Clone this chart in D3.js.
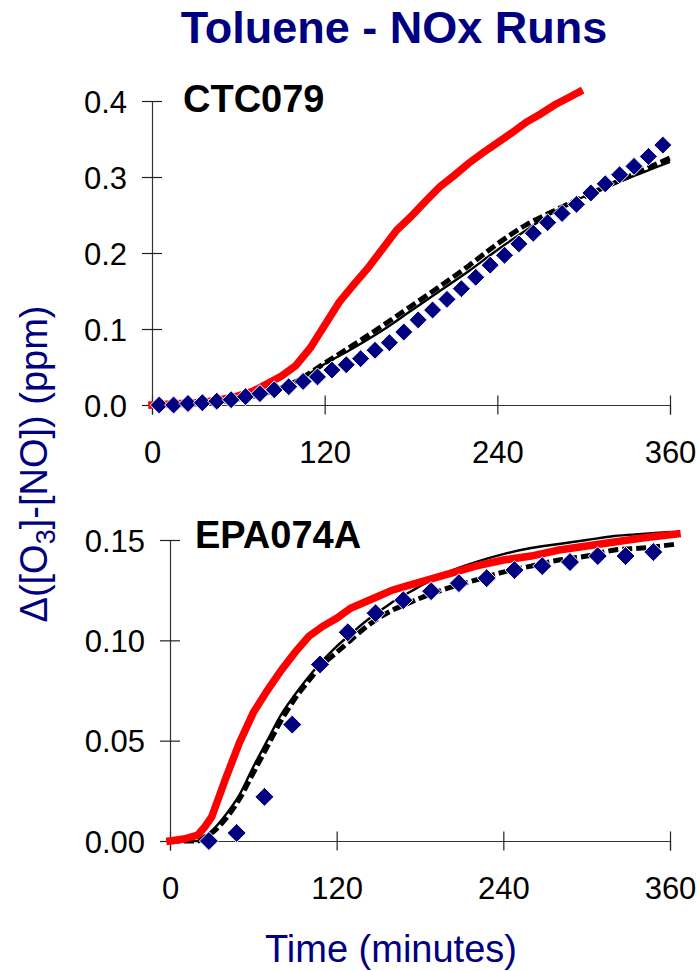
<!DOCTYPE html>
<html>
<head>
<meta charset="utf-8">
<script src="https://cdn.jsdelivr.net/npm/d3@7/dist/d3.min.js"></script>
<style>
  html, body { margin: 0; padding: 0; background: #fff; }
  svg { display: block; font-family: Arial, "Liberation Sans", sans-serif; }
</style>
</head>
<body>
<svg id="chart" width="700" height="971"></svg>
<script>
// ---- CTC079 run ----
const ctcObsTime = [5,15,25,35,45,55,65,75,85,95,105,115,125,135,145,155,165,175,185,195,205,215,225,235,245,255,265,275,285,295,305,315,325,335,345,355];
const ctcObs     = [0.000,0.000,0.002,0.003,0.005,0.007,0.011,0.015,0.020,0.024,0.031,0.037,0.046,0.053,0.061,0.072,0.082,0.096,0.112,0.125,0.139,0.153,0.168,0.184,0.197,0.212,0.226,0.240,0.252,0.264,0.279,0.291,0.303,0.314,0.327,0.342];
const ctcRedTime = [0,10,20,30,40,50,60,70,80,90,100,110,120,130,140,150,160,170,180,190,200,210,220,230,240,250,260,270,280,290,297];
const ctcRed     = [0,0.001,0.002,0.003,0.005,0.008,0.012,0.018,0.028,0.038,0.052,0.075,0.105,0.135,0.158,0.180,0.205,0.230,0.248,0.268,0.287,0.302,0.318,0.332,0.345,0.358,0.372,0.383,0.395,0.405,0.412];
const ctcSolidTime = [0,20,40,60,80,100,120,140,160,180,200,220,240,260,280,300,320,340,360];
const ctcSolid     = [0,0.001,0.003,0.008,0.016,0.031,0.054,0.075,0.098,0.124,0.150,0.176,0.204,0.230,0.255,0.274,0.290,0.305,0.320];
const ctcDashTime  = [0,20,40,60,80,100,120,140,160,180,200,220,240,260,280,300,320,340,360];
const ctcDash      = [0,0.001,0.003,0.008,0.016,0.031,0.055,0.079,0.104,0.130,0.156,0.183,0.212,0.237,0.256,0.274,0.291,0.308,0.325];

// ---- EPA074A run ----
const epaObsTime = [28,48,68,88,108,128,148,168,188,208,228,248,268,288,308,328,348];
const epaObs     = [0.000,0.004,0.022,0.058,0.088,0.104,0.1135,0.120,0.1245,0.1285,0.131,0.135,0.137,0.139,0.142,0.142,0.144];
const epaRedTime = [0,10,20,25,30,40,50,60,70,80,90,100,110,120,130,140,150,160,170,180,190,200,220,240,260,280,300,320,340,365];
const epaRed     = [0,0.001,0.003,0.007,0.012,0.031,0.049,0.064,0.075,0.085,0.094,0.102,0.107,0.111,0.116,0.119,0.122,0.125,0.127,0.129,0.131,0.133,0.137,0.140,0.142,0.145,0.147,0.149,0.151,0.153];
const epaSolidTime = [0,20,25,30,40,50,60,70,80,90,100,110,120,130,140,150,160,170,180,200,220,240,260,280,300,320,340,360];
const epaSolid     = [0,0,0.002,0.005,0.013,0.023,0.037,0.050,0.063,0.073,0.082,0.090,0.097,0.103,0.109,0.114,0.119,0.123,0.127,0.134,0.139,0.143,0.146,0.148,0.150,0.152,0.153,0.154];
const epaDashTime  = [0,20,25,30,40,50,60,70,80,90,100,110,120,130,140,150,160,170,180,200,220,240,260,280,300,320,340,365];
const epaDash      = [0,0,0.002,0.004,0.011,0.021,0.034,0.047,0.060,0.071,0.080,0.088,0.094,0.100,0.106,0.111,0.115,0.118,0.121,0.126,0.130,0.134,0.137,0.140,0.142,0.145,0.146,0.148];

// ---- axis ticks and labels ----
const timeTicks = [0,120,240,360];
const ctcTicks  = [0,0.1,0.2,0.3,0.4];
const epaTicks  = [0,0.05,0.10,0.15];
const titleText = "Toluene - NOx Runs";
const xLabel    = "Time (minutes)";

const NAVY = "#000080", RED = "#ff0000";
const svg = d3.select("#chart");

const zip = (t, v) => t.map((d, i) => [d, v[i]]);

function panel(cfg) {
  const x = d3.scaleLinear().domain([0, 360]).range(cfg.xr);
  const y = d3.scaleLinear().domain(cfg.yd).range(cfg.yr);
  const g = svg.append("g");

  // axes; tick marks cross the axis line on both sides
  const xa = g.append("g").attr("transform", `translate(0,${cfg.yr[0]})`)
    .call(d3.axisBottom(x).tickValues(timeTicks).tickSizeOuter(0).tickSize(9.5).tickPadding(26).tickFormat(d3.format("d")));
  const ya = g.append("g").attr("transform", `translate(${cfg.xr[0]},0)`)
    .call(d3.axisLeft(y).tickValues(cfg.ticks).tickSizeOuter(0).tickSize(10).tickPadding(15).tickFormat(d3.format(cfg.fmt)));
  xa.selectAll(".tick line").attr("y1", -9.5);
  ya.selectAll(".tick line").attr("x1", 10);
  [xa, ya].forEach(a => {
    a.select(".domain").attr("stroke", "#333").attr("stroke-width", 1.2);
    a.selectAll(".tick line").attr("stroke", "#222").attr("stroke-width", 1.2);
    a.selectAll(".tick text").attr("font-size", 31).attr("fill", "#000").attr("font-family", "Arial, 'Liberation Sans', sans-serif");
  });
  ya.selectAll(".tick text").attr("dy", "0.36em");

  const lineLin = d3.line().x(d => x(d[0])).y(d => y(d[1]));
  const lineSmooth = d3.line().x(d => x(d[0])).y(d => y(d[1])).curve(d3.curveMonotoneX);

  g.append("path").datum(cfg.dash).attr("d", lineSmooth)
    .attr("fill", "none").attr("stroke", "#000").attr("stroke-width", 5).attr("stroke-dasharray", "10,4");
  g.append("path").datum(cfg.solid).attr("d", lineSmooth)
    .attr("fill", "none").attr("stroke", "#000").attr("stroke-width", 2.4);
  g.append("path").datum(cfg.red).attr("d", lineLin)
    .attr("fill", "none").attr("stroke", RED).attr("stroke-width", 7.5)
    .attr("stroke-linejoin", "miter").attr("stroke-linecap", "square");

  // observed points as square diamonds
  const r = cfg.r;
  g.selectAll("path.obs").data(cfg.obs).join("path").attr("class", "obs")
    .attr("d", d => {
      const cx = x(d[0]), cy = y(d[1]);
      return `M${cx},${cy - r}L${cx + r},${cy}L${cx},${cy + r}L${cx - r},${cy}Z`;
    })
    .attr("fill", NAVY).attr("stroke", "#fff").attr("stroke-width", 1);

  g.append("text").attr("x", cfg.label[1]).attr("y", cfg.label[2])
    .attr("font-size", 38).attr("font-weight", "bold").attr("fill", "#000")
    .text(cfg.label[0]);
}

panel({
  xr: [152, 670], yr: [405, 101], yd: [0, 0.4], ticks: ctcTicks, fmt: ".1f", r: 9,
  obs: zip(ctcObsTime, ctcObs), red: zip(ctcRedTime, ctcRed),
  solid: zip(ctcSolidTime, ctcSolid), dash: zip(ctcDashTime, ctcDash),
  label: ["CTC079", 183, 112]
});
panel({
  xr: [170, 670], yr: [841, 540], yd: [0, 0.15], ticks: epaTicks, fmt: ".2f", r: 9.5,
  obs: zip(epaObsTime, epaObs), red: zip(epaRedTime, epaRed),
  solid: zip(epaSolidTime, epaSolid), dash: zip(epaDashTime, epaDash),
  label: ["EPA074A", 195, 548]
});

// chart title
svg.append("text").attr("x", 394).attr("y", 43).attr("text-anchor", "middle")
  .attr("font-size", 45).attr("font-weight", "bold").attr("fill", NAVY).text(titleText);

// x axis title
svg.append("text").attr("x", 391).attr("y", 962).attr("text-anchor", "middle")
  .attr("font-size", 38).attr("fill", NAVY).text(xLabel);

// y axis title with subscript
const yl = svg.append("text").attr("transform", "translate(47,464) rotate(-90)")
  .attr("text-anchor", "middle").attr("font-size", 38).attr("fill", NAVY);
yl.append("tspan").text("\u0394([O");
yl.append("tspan").attr("font-size", 27).attr("dy", 8).text("3");
yl.append("tspan").attr("dy", -8).text("]-[NO]) (ppm)");
</script>
</body>
</html>
